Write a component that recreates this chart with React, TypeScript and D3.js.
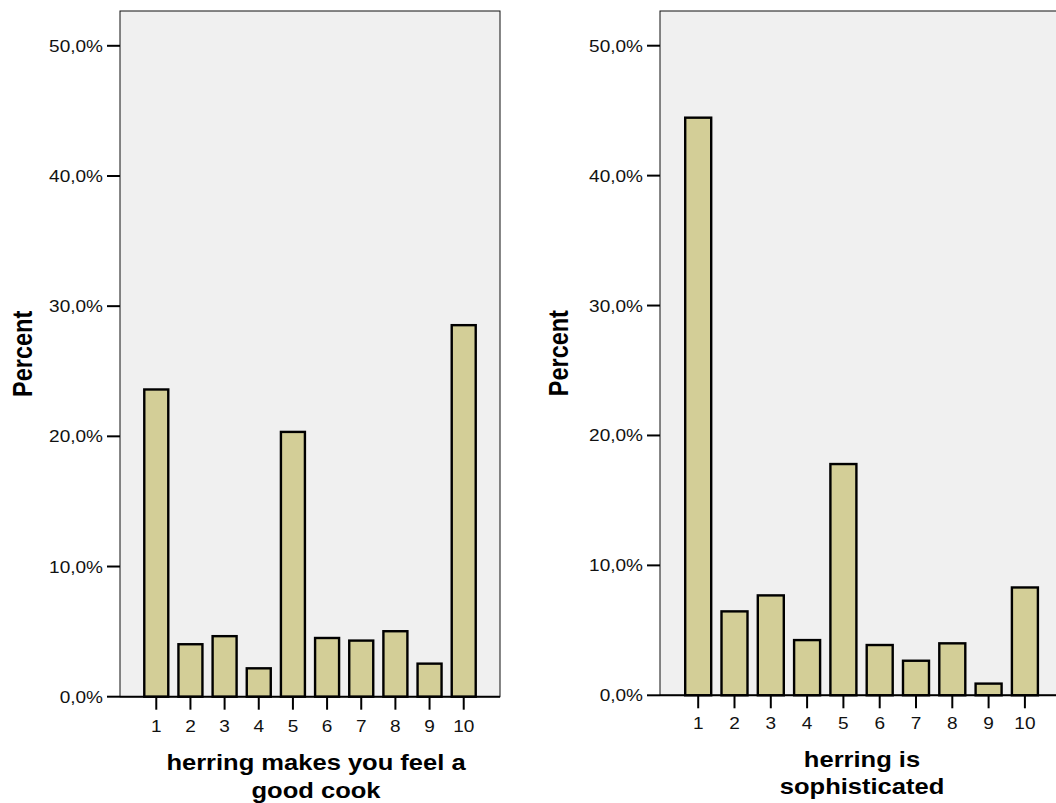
import React from "react";
import * as d3 from "d3";

const categories = ["1", "2", "3", "4", "5", "6", "7", "8", "9", "10"];
const goodCookValues = [23.6, 4.03, 4.65, 2.18, 20.34, 4.51, 4.31, 5.03, 2.54, 28.54];
const sophisticatedValues = [44.46, 6.46, 7.69, 4.25, 17.8, 3.87, 2.66, 4.0, 0.9, 8.3];
const yTicks = [0, 10, 20, 30, 40, 50];
const yAxisTitle = "Percent";
const goodCookTitle = ["herring makes you feel a", "good cook"];
const sophisticatedTitle = ["herring is", "sophisticated"];

const BAR_FILL = "#d3ce97";
const PLOT_BG = "#f0f0f0";
const FONT = "'Liberation Sans', Arial, sans-serif";
const SX = 1.12;

type PanelProps = {
  values: number[];
  title: string[];
  plotLeft: number;
  plotRight: number;
  plotTop: number;
  y0: number;
  y50: number;
  bandStart: number;
  bandEnd: number;
  barWidth: number;
  tickLabelBaseline: number;
  titleX: number;
  titleBaseline: number;
  titleLineGap: number;
  yTitleX: number;
};

function fmt(v: number) {
  return d3.format(".1f")(v).replace(".", ",") + "%";
}

function Panel(p: PanelProps) {
  const y = d3.scaleLinear().domain([0, 50]).range([p.y0, p.y50]);
  const x = d3.scalePoint<string>().domain(categories).range([p.bandStart, p.bandEnd]).padding(0.5);
  const yMid = (p.plotTop + p.y0) / 2;
  return (
    <g>
      <rect x={p.plotLeft} y={p.plotTop} width={p.plotRight - p.plotLeft} height={p.y0 - p.plotTop}
        fill={PLOT_BG} stroke="#111" strokeWidth={1} />
      {p.values.map((v, i) => {
        const cx = x(categories[i]) as number;
        return (
          <rect key={i} x={cx - p.barWidth / 2} y={y(v)} width={p.barWidth} height={p.y0 - y(v)}
            fill={BAR_FILL} stroke="#000" strokeWidth={2.4} />
        );
      })}
      <line x1={p.plotLeft} x2={p.plotRight} y1={p.y0} y2={p.y0} stroke="#000" strokeWidth={2} />
      {yTicks.map((t) => (
        <g key={t}>
          <line x1={p.plotLeft - 13} x2={p.plotLeft} y1={y(t)} y2={y(t)} stroke="#000" strokeWidth={2} />
          <text transform={`translate(${p.plotLeft - 17},${y(t) + 6}) scale(${SX},1)`} textAnchor="end"
            fontFamily={FONT} fontSize={17} fill="#111">{fmt(t)}</text>
        </g>
      ))}
      {categories.map((c) => {
        const cx = x(c) as number;
        return (
          <g key={c}>
            <line x1={cx} x2={cx} y1={p.y0} y2={p.y0 + 13} stroke="#000" strokeWidth={2} />
            <text transform={`translate(${cx},${p.tickLabelBaseline}) scale(${SX},1)`} textAnchor="middle"
              fontFamily={FONT} fontSize={17} fill="#111">{c}</text>
          </g>
        );
      })}
      {p.title.map((line, i) => (
        <text key={i} transform={`translate(${p.titleX},${p.titleBaseline + i * p.titleLineGap}) scale(${SX},1)`}
          textAnchor="middle" fontFamily={FONT} fontWeight="bold" fontSize={22.8} fill="#000">{line}</text>
      ))}
      <text transform={`translate(${p.yTitleX},${yMid}) rotate(-90) scale(1,1.15)`} textAnchor="middle"
        fontFamily={FONT} fontWeight="bold" fontSize={23.5} fill="#000" dy="0.36em">{yAxisTitle}</text>
    </g>
  );
}

export default function App() {
  return (
    <svg width={1056} height={803} style={{ position: "absolute", left: 0, top: 0, background: "#fff" }}>
      <rect x={0} y={0} width={1056} height={803} fill="#fff" />
      <Panel values={goodCookValues} title={goodCookTitle}
        plotLeft={120} plotRight={500} plotTop={11} y0={696.7} y50={45.8}
        bandStart={139.2} bandEnd={480.8} barWidth={24}
        tickLabelBaseline={731.5} titleX={316} titleBaseline={769.5} titleLineGap={28}
        yTitleX={22} />
      <Panel values={sophisticatedValues} title={sophisticatedTitle}
        plotLeft={660} plotRight={1066} plotTop={11} y0={695.3} y50={45.7}
        bandStart={680.05} bandEnd={1043.05} barWidth={26}
        tickLabelBaseline={728.5} titleX={862} titleBaseline={766.7} titleLineGap={27.5}
        yTitleX={558} />
    </svg>
  );
}
